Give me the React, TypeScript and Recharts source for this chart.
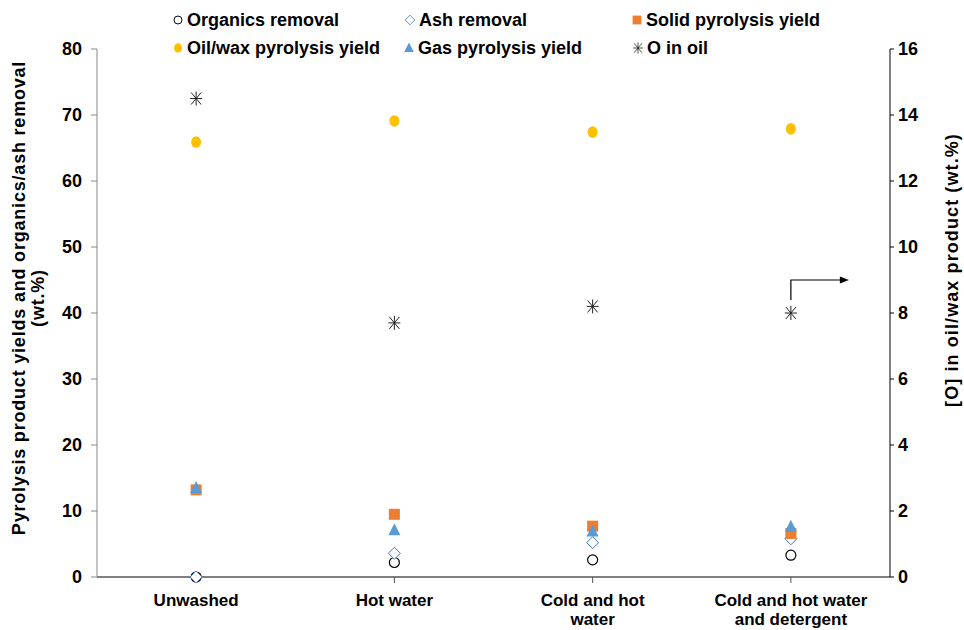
import { ComposedChart, Scatter, XAxis, YAxis, ReferenceDot } from 'recharts';

const categories = ['Unwashed', 'Hot water', 'Cold and hot water', 'Cold and hot water and detergent'];
const tickLines = [['Unwashed'], ['Hot water'], ['Cold and hot', 'water'], ['Cold and hot water', 'and detergent']];

const organicsRemoval = [0, 2.2, 2.6, 3.3];
const ashRemoval = [0, 3.6, 5.2, 5.8];
const solidYield = [13.2, 9.5, 7.7, 6.6];
const oilYield = [65.9, 69.1, 67.4, 67.9];
const gasYield = [13.5, 7.1, 6.9, 7.6];
const oxygenInOil = [14.5, 7.7, 8.2, 8.0];

const leftTicks = [0, 10, 20, 30, 40, 50, 60, 70, 80];
const rightTicks = [0, 2, 4, 6, 8, 10, 12, 14, 16];

const data = categories.map((cat, i) => ({
  cat,
  organics: organicsRemoval[i],
  ash: ashRemoval[i],
  solid: solidYield[i],
  oil: oilYield[i],
  gas: gasYield[i],
  oxygen: oxygenInOil[i],
}));

const FONT = '"Liberation Sans", Arial, sans-serif';
const BLUE_DARK = '#4472C4';
const ORANGE = '#ED7D31';
const GOLD = '#FFC000';
const BLUE = '#5B9BD5';

const OpenCircle = ({ cx, cy }: any) => <circle cx={cx} cy={cy} r={5} fill="#fff" stroke="#000" strokeWidth={1.2} />;
const Diamond = ({ cx, cy }: any) => (
  <path d={`M${cx},${cy - 6}L${cx + 6},${cy}L${cx},${cy + 6}L${cx - 6},${cy}Z`} fill="#fff" stroke={BLUE_DARK} strokeWidth={1} />
);
const Square = ({ cx, cy }: any) => <rect x={cx - 5.5} y={cy - 5.5} width={11} height={11} fill={ORANGE} />;
const OilDot = ({ cx, cy }: any) => <ellipse cx={cx} cy={cy} rx={5} ry={5.8} fill={GOLD} />;
const Triangle = ({ cx, cy }: any) => (
  <path d={`M${cx},${cy - 7}L${cx + 6},${cy + 5}L${cx - 6},${cy + 5}Z`} fill={BLUE} />
);
const Star = ({ cx, cy }: any) => (
  <g stroke="#222" strokeWidth={1}>
    <line x1={cx - 6} y1={cy} x2={cx + 6} y2={cy} />
    <line x1={cx} y1={cy - 7} x2={cx} y2={cy + 7} />
    <line x1={cx - 5} y1={cy - 6} x2={cx + 5} y2={cy + 6} />
    <line x1={cx - 5} y1={cy + 6} x2={cx + 5} y2={cy - 6} />
  </g>
);

const Arrow = ({ cx, cy }: any) => (
  <g>
    <path d={`M${cx},${cy + 20}L${cx},${cy}L${cx + 50},${cy}`} fill="none" stroke="#000" strokeWidth={1.2} />
    <path d={`M${cx + 58},${cy}L${cx + 49},${cy - 3.5}L${cx + 49},${cy + 3.5}Z`} fill="#000" />
  </g>
);

const legendItems = [
  { name: 'Organics removal', Icon: OpenCircle, left: 178, top: 20 },
  { name: 'Ash removal', Icon: Diamond, left: 410, top: 20 },
  { name: 'Solid pyrolysis yield', Icon: Square, left: 637, top: 20 },
  { name: 'Oil/wax pyrolysis yield', Icon: OilDot, left: 178, top: 48 },
  { name: 'Gas pyrolysis yield', Icon: Triangle, left: 409, top: 48 },
  { name: 'O in oil', Icon: Star, left: 638, top: 48 },
];

const CatTick = ({ x, y, index }: any) => (
  <text x={x} y={y} textAnchor="middle" fontFamily={FONT} fontWeight="bold" fontSize={17} fill="#000">
    {tickLines[index].map((line, i) => (
      <tspan key={i} x={x} dy={i === 0 ? 21 : 19}>
        {line}
      </tspan>
    ))}
  </text>
);

const tickStyle = { fontFamily: FONT, fontWeight: 'bold' as const, fontSize: 18, fill: '#000' };

const titleStyle = (left: number, top: number, spacing: number): React.CSSProperties => ({
  position: 'absolute',
  left,
  top,
  transform: 'translate(-50%, -50%) rotate(-90deg)',
  fontFamily: FONT,
  fontWeight: 'bold',
  fontSize: 18,
  letterSpacing: spacing,
  whiteSpace: 'nowrap',
  lineHeight: '18px',
});

export default function App() {
  return (
    <div style={{ position: 'absolute', left: 0, top: 0, width: 964, height: 630, background: '#fff', overflow: 'hidden' }}>
      <ComposedChart width={964} height={630} data={data} margin={{ top: 49, right: 0, bottom: 0, left: 0 }}>
        <XAxis
          dataKey="cat"
          scale="band"
          height={53}
          axisLine={{ stroke: '#000' }}
          tickLine={{ stroke: '#555' }}
          tick={<CatTick />}
          interval={0}
        />
        <YAxis
          yAxisId="left"
          domain={[0, 80]}
          ticks={leftTicks}
          width={97}
          axisLine={{ stroke: '#888' }}
          tickLine={{ stroke: '#888' }}
          tickSize={6}
          tickMargin={9}
          tick={tickStyle}
        />
        <YAxis
          yAxisId="right"
          orientation="right"
          domain={[0, 16]}
          ticks={rightTicks}
          width={74}
          axisLine={{ stroke: '#000' }}
          tickLine={{ stroke: '#000' }}
          tickSize={4}
          tickMargin={4}
          tick={tickStyle}
        />
        <Scatter yAxisId="left" dataKey="organics" name="Organics removal" shape={<OpenCircle />} isAnimationActive={false} />
        <Scatter yAxisId="left" dataKey="ash" name="Ash removal" shape={<Diamond />} isAnimationActive={false} />
        <Scatter yAxisId="left" dataKey="solid" name="Solid pyrolysis yield" shape={<Square />} isAnimationActive={false} />
        <Scatter yAxisId="left" dataKey="oil" name="Oil/wax pyrolysis yield" shape={<OilDot />} isAnimationActive={false} />
        <Scatter yAxisId="left" dataKey="gas" name="Gas pyrolysis yield" shape={<Triangle />} isAnimationActive={false} />
        <Scatter yAxisId="right" dataKey="oxygen" name="O in oil" shape={<Star />} isAnimationActive={false} />
        <ReferenceDot yAxisId="right" x={categories[3]} y={9.0} shape={<Arrow />} ifOverflow="visible" />
      </ComposedChart>
      {legendItems.map(({ name, Icon, left, top }) => (
        <div key={name} style={{ position: 'absolute', left: left - 8, top: top - 11, height: 22, display: 'flex', alignItems: 'center' }}>
          <svg width={16} height={20}>
            <g transform="translate(8,10) scale(0.8)">
              <Icon cx={0} cy={0} />
            </g>
          </svg>
          <span style={{ fontFamily: FONT, fontWeight: 'bold', fontSize: 18, color: '#000', whiteSpace: 'nowrap', marginLeft: 1 }}>{name}</span>
        </div>
      ))}
      <div style={titleStyle(19, 298, 0.8)}>Pyrolysis product yields and organics/ash removal</div>
      <div style={titleStyle(38, 298, 0.8)}>(wt.%)</div>
      <div style={titleStyle(952, 270, 1.1)}>[O] in oil/wax product (wt.%)</div>
    </div>
  );
}
